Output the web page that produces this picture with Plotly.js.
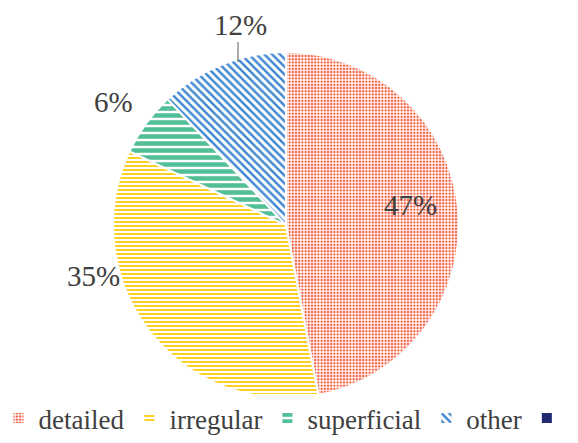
<!DOCTYPE html>
<html>
<head>
<meta charset="utf-8">
<script src="https://cdn.plot.ly/plotly-3.0.1.min.js"></script>
<style>html,body{margin:0;padding:0;background:#fff;}#chart{width:578px;height:443px;}</style>
</head>
<body>
<div id="chart"></div>
<script>
var categories = ['detailed', 'irregular', 'superficial', 'other', ' '];
var values = [47, 35, 6, 12, 0];
var percentLabels = ['47%', '35%', '6%', '12%'];

var colors = ['#ef5b3d', '#fdd023', '#52bf96', '#3f86d2', '#1f2a6e'];
var shapes = ['.', '-', '-', '\\', ''];
var sizes = [3.2, 4, 7, 5.5, 8];
var solid = [0.45, 0.5, 0.65, 0.45, 1];

var trace = {
  type: 'pie',
  labels: categories,
  values: values,
  sort: false,
  direction: 'clockwise',
  rotation: 0,
  textinfo: 'none',
  hoverinfo: 'label+percent',
  domain: {x: [0.1955, 0.794], y: [0.101, 0.883]},
  marker: {
    colors: colors,
    line: {color: '#ffffff', width: 2},
    pattern: {
      shape: shapes,
      fillmode: 'replace',
      fgcolor: colors,
      bgcolor: '#ffffff',
      size: sizes,
      solidity: solid
    }
  }
};

var labelPos = [[410, 205], [93, 276], [113, 102], [240, 25]];
var annotations = percentLabels.map(function (t, i) {
  return {
    text: t,
    x: labelPos[i][0] / 578, y: 1 - labelPos[i][1] / 443,
    xref: 'paper', yref: 'paper', xanchor: 'center', yanchor: 'middle',
    showarrow: false,
    font: {family: 'Liberation Serif, Times New Roman, serif', size: 29, color: '#404040'}
  };
});

var layout = {
  width: 578, height: 443,
  margin: {l: 0, r: 0, t: 0, b: 0},
  paper_bgcolor: '#ffffff',
  showlegend: true,
  legend: {
    orientation: 'h', x: 0.5, xanchor: 'center', y: 0, yanchor: 'bottom',
    font: {family: 'Liberation Serif, Times New Roman, serif', size: 27, color: '#404040'},
    itemwidth: 30, traceorder: 'normal'
  },
  annotations: annotations,
  shapes: [{type: 'line', xref: 'paper', yref: 'paper',
            x0: 238 / 578, x1: 238 / 578, y0: 1 - 42 / 443, y1: 1 - 62 / 443,
            line: {color: '#595959', width: 1}}]
};

Plotly.newPlot('chart', [trace], layout, {displayModeBar: false, staticPlot: true});
</script>
</body>
</html>
